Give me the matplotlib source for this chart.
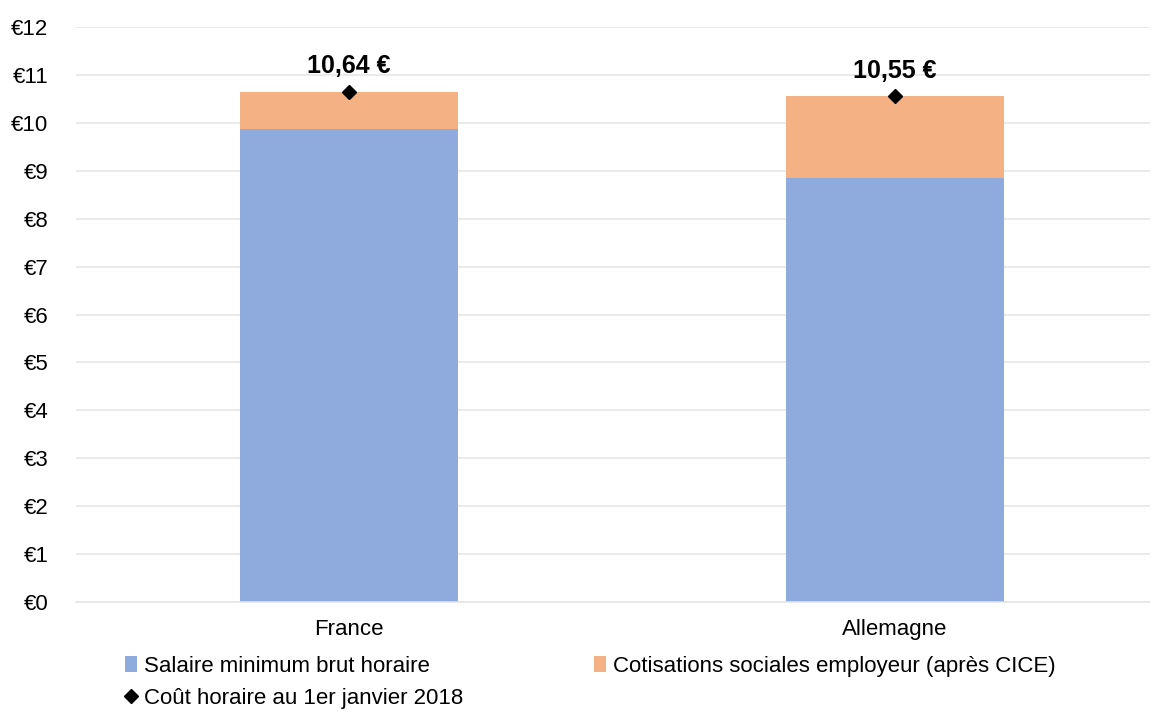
import matplotlib.pyplot as plt
import numpy as np

plt.rcParams['font.family'] = ['Liberation Sans', 'DejaVu Sans']

# Données
pays = ['France', 'Allemagne']
salaire_brut = [9.88, 8.84]
cotisations = [0.76, 1.71]
cout_horaire = [10.64, 10.55]
etiquettes = ['10,64 €', '10,55 €']
graduations = list(range(0, 13))

fig = plt.figure(figsize=(11.57, 7.13), dpi=100)
ax = fig.add_axes([76 / 1157, 1 - 602 / 713, (1150 - 76) / 1157, (602 - 27) / 713])

x = np.arange(len(pays))
b1 = ax.bar(x, salaire_brut, width=0.4, color='#8FAADC', zorder=2,
            label='Salaire minimum brut horaire')
b2 = ax.bar(x, cotisations, width=0.4, bottom=salaire_brut, color='#F4B183', zorder=2,
            label='Cotisations sociales employeur (après CICE)')
pt, = ax.plot(x, cout_horaire, linestyle='none', marker='D', markersize=7,
              color='black', zorder=3, label='Coût horaire au 1er janvier 2018')

for xi, yi, txt in zip(x, cout_horaire, etiquettes):
    ax.annotate(txt, (xi, yi), xytext=(0, 10), textcoords='offset points',
                ha='center', va='bottom', fontsize=18, fontweight='bold')

ax.set_xlim(-0.5, 1 + (1150 - 895) / 546)
ax.set_ylim(0, 12)
ax.set_yticks(graduations)
ax.set_yticklabels([f'€{v}' for v in graduations])
ax.set_xticks(x)
ax.set_xticklabels(pays)
ax.tick_params(axis='both', length=0, labelsize=16)
ax.tick_params(axis='x', pad=12)
ax.tick_params(axis='y', pad=20)
ax.grid(axis='y', color='#e4e4e4', linewidth=1.1, zorder=0)
for s in ['top', 'right', 'left']:
    ax.spines[s].set_visible(False)
ax.spines['bottom'].set_color('#e4e4e4')
ax.spines['bottom'].set_linewidth(1.1)

fig.legend([b1, pt, b2],
           ['Salaire minimum brut horaire', 'Coût horaire au 1er janvier 2018',
            'Cotisations sociales employeur (après CICE)'],
           ncol=2, loc='lower left', bbox_to_anchor=(105 / 1157, -0.022),
           frameon=False, fontsize=16, handlelength=0.55, handletextpad=0.3,
           columnspacing=5.9, labelspacing=0.5)

plt.savefig('out.png', dpi=100)
